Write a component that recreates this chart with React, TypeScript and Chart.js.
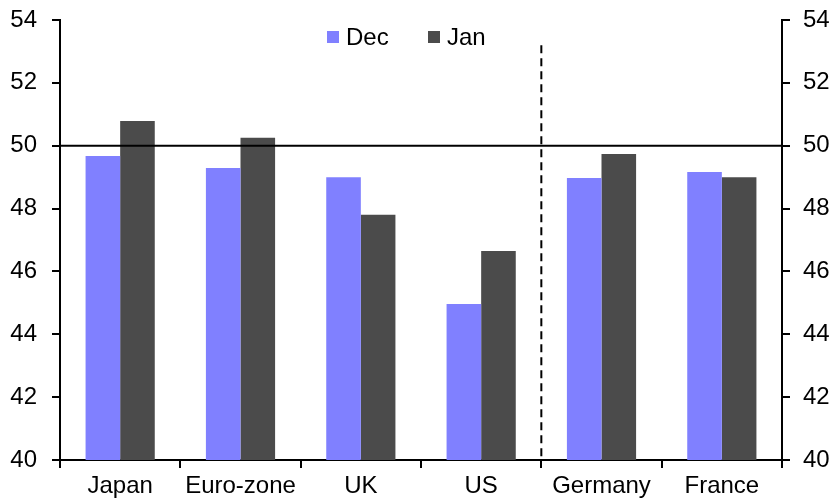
import React, { useEffect, useRef } from "react";
import { Chart, registerables } from "chart.js";

Chart.register(...registerables);

const categories = ["Japan", "Euro-zone", "UK", "US", "Germany", "France"];
const decValues = [49.67, 49.29, 49.0, 44.96, 48.97, 49.16];
const janValues = [50.79, 50.25, 47.8, 46.65, 49.74, 49.0];
const seriesLabels = ["Dec", "Jan"];
const yMin = 40;
const yMax = 54;
const yStep = 2;
const referenceLevel = 50;
const dividerAfterIndex = 3;
const dividerTopValue = 53.2;

const FONT = "Liberation Sans, Arial, sans-serif";
const FONT_SIZE = 24;
const DEC_COLOR = "#8080FF";
const JAN_COLOR = "#4B4B4B";

const overlayPlugin = {
  id: "overlay",
  afterDatasetsDraw(chart: any) {
    const { ctx, chartArea, scales } = chart;
    const y = scales.y;
    const x = scales.x;
    ctx.save();
    const y50 = y.getPixelForValue(referenceLevel);
    ctx.strokeStyle = "#000";
    ctx.lineWidth = 2;
    ctx.beginPath();
    ctx.moveTo(chartArea.left, y50);
    ctx.lineTo(chartArea.right, y50);
    ctx.stroke();
    const xd =
      (x.getPixelForValue(dividerAfterIndex) + x.getPixelForValue(dividerAfterIndex + 1)) / 2;
    ctx.setLineDash([8, 5]);
    ctx.beginPath();
    ctx.moveTo(xd, y.getPixelForValue(dividerTopValue));
    ctx.lineTo(xd, chartArea.bottom);
    ctx.stroke();
    ctx.setLineDash([]);
    const colors = [DEC_COLOR, JAN_COLOR];
    const xs = [327, 428];
    const cy = 37;
    ctx.font = `${FONT_SIZE}px ${FONT}`;
    ctx.textBaseline = "middle";
    ctx.textAlign = "left";
    chart.data.datasets.forEach((ds: any, i: number) => {
      ctx.fillStyle = colors[i];
      ctx.fillRect(xs[i], cy - 6, 12, 12);
      ctx.fillStyle = "#000";
      ctx.fillText(ds.label, xs[i] + 19, cy + 1);
    });
    ctx.restore();
  },
};

function fixY(width: number) {
  return (scale: any) => {
    scale.width = width;
    scale.paddingTop = 0;
    scale.paddingBottom = 0;
  };
}

export default function App() {
  const ref = useRef<HTMLCanvasElement | null>(null);
  useEffect(() => {
    if (!ref.current) return;
    const chart = new Chart(ref.current, {
      type: "bar",
      data: {
        labels: categories,
        datasets: [
          { label: seriesLabels[0], data: decValues, backgroundColor: DEC_COLOR, yAxisID: "y" },
          { label: seriesLabels[1], data: janValues, backgroundColor: JAN_COLOR, yAxisID: "y" },
        ],
      },
      options: {
        animation: false,
        responsive: false,
        maintainAspectRatio: false,
        layout: { padding: { top: 20, left: 0, right: 0, bottom: 0 } },
        datasets: { bar: { categoryPercentage: 0.575, barPercentage: 1.0 } },
        plugins: { legend: { display: false }, tooltip: { enabled: false } },
        scales: {
          x: {
            grid: {
              offset: true,
              drawOnChartArea: false,
              drawTicks: true,
              tickLength: 8,
              color: "#000",
              lineWidth: 2,
            },
            border: { display: true, color: "#000", width: 2 },
            ticks: { color: "#000", font: { family: FONT, size: FONT_SIZE }, padding: 4, maxRotation: 0, autoSkip: false },
            afterFit(scale: any) {
              scale.height = 42;
              scale.paddingLeft = 0;
              scale.paddingRight = 0;
            },
          },
          y: {
            position: "left",
            min: yMin,
            max: yMax,
            grid: { drawOnChartArea: false, drawTicks: true, tickLength: 8, color: "#000", lineWidth: 2 },
            border: { display: true, color: "#000", width: 2 },
            ticks: { stepSize: yStep, color: "#000", font: { family: FONT, size: FONT_SIZE }, padding: 15 },
            afterFit: fixY(60),
          },
          y2: {
            position: "right",
            min: yMin,
            max: yMax,
            grid: { drawOnChartArea: false, drawTicks: true, tickLength: 8, color: "#000", lineWidth: 2 },
            border: { display: true, color: "#000", width: 2 },
            ticks: { stepSize: yStep, color: "#000", font: { family: FONT, size: FONT_SIZE }, padding: 13 },
            afterFit: fixY(58),
          },
        },
      },
      plugins: [overlayPlugin],
    });
    return () => chart.destroy();
  }, []);
  return (
    <div style={{ position: "absolute", left: 0, top: 0, width: 840, height: 502, background: "#fff" }}>
      <canvas ref={ref} width={840} height={502} style={{ width: 840, height: 502 }} />
    </div>
  );
}
